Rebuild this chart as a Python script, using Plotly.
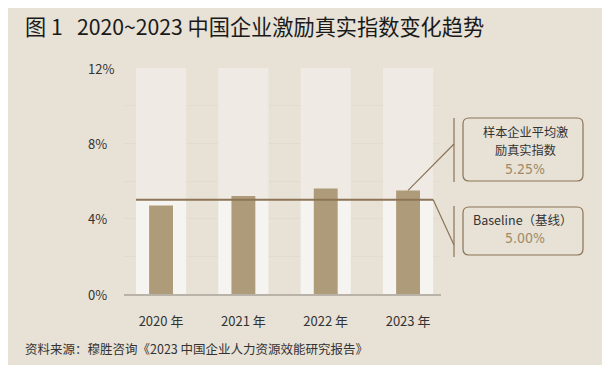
import plotly.graph_objects as go

# ---- data ----
years = ["2020 年", "2021 年", "2022 年", "2023 年"]
index_values = [4.7, 5.2, 5.6, 5.5]       # 激励真实指数 (%)
baseline = 5.00                            # Baseline（基线）
avg_index = 5.25                           # 样本企业平均激励真实指数
y_max = 12
y_label_vals = [0, 4, 8, 12]
y_grid_vals = [0, 2, 4, 6, 8, 10, 12]

# ---- style ----
BG = "#e7e1d6"
LIGHT_LOW = "#f6f4f0"
LIGHT_HIGH = "#efebe4"
BAR = "#ae9b79"
LINE = "#8c7456"
TXT = "#333333"
CJK = "Noto Sans CJK SC"
NARROW = "Liberation Sans Narrow, DejaVu Sans Condensed, Roboto Condensed, sans-serif"

OFF = 8  # page body margin offset
W, H = 610, 365
L, T = 124 - OFF, 68 - OFF
PW, PH = 317, 226
R = W - L - PW
B = H - T - PH
x_range = [-0.45, 3.40]
bg_w, fg_w = 0.61, 0.29

def px(xs_):
    return (xs_ - 124) / PW

def py(ys_):
    return (294 - ys_) / PH

xs = list(range(len(years)))

fig = go.Figure()
fig.add_trace(go.Bar(x=xs, y=[baseline] * len(xs), base=0, width=bg_w,
                     marker=dict(color=LIGHT_LOW, line=dict(width=0)), hoverinfo="skip"))
fig.add_trace(go.Bar(x=xs, y=[y_max - baseline] * len(xs), base=[baseline] * len(xs), width=bg_w,
                     marker=dict(color=LIGHT_HIGH, line=dict(width=0)), hoverinfo="skip"))
fig.add_trace(go.Bar(x=xs, y=index_values, width=fg_w,
                     marker=dict(color=BAR, line=dict(width=0))))
fig.add_trace(go.Scatter(x=[xs[0] - bg_w / 2, xs[-1] + bg_w / 2], y=[baseline, baseline],
                         mode="lines", line=dict(color=LINE, width=2), hoverinfo="skip"))

shapes = []
annotations = []

def xpaper(v):
    return (v - x_range[0]) / (x_range[1] - x_range[0])

vline_x = px(454)
shapes.append(dict(type="line", xref="paper", yref="paper",
                   x0=xpaper(xs[-1]), y0=index_values[-1] / y_max, x1=vline_x, y1=py(144),
                   line=dict(color=LINE, width=1.2)))
shapes.append(dict(type="line", xref="paper", yref="paper",
                   x0=vline_x, y0=py(118), x1=vline_x, y1=py(182),
                   line=dict(color=LINE, width=1.2)))
shapes.append(dict(type="line", xref="paper", yref="paper",
                   x0=xpaper(xs[-1] + bg_w / 2), y0=baseline / y_max, x1=vline_x, y1=py(245),
                   line=dict(color=LINE, width=1.2)))
shapes.append(dict(type="line", xref="paper", yref="paper",
                   x0=vline_x, y0=py(206), x1=vline_x, y1=py(257),
                   line=dict(color=LINE, width=1.2)))

def rounded_box(x0p, y0p, x1p, y1p, r=6):
    x0, x1 = px(x0p), px(x1p)
    yt, yb = py(y0p), py(y1p)
    rx, ry = r / PW, r / PH
    path = (f"M {x0+rx},{yt} L {x1-rx},{yt} Q {x1},{yt} {x1},{yt-ry} "
            f"L {x1},{yb+ry} Q {x1},{yb} {x1-rx},{yb} L {x0+rx},{yb} "
            f"Q {x0},{yb} {x0},{yb+ry} L {x0},{yt-ry} Q {x0},{yt} {x0+rx},{yt} Z")
    return dict(type="path", xref="paper", yref="paper", path=path,
                line=dict(color=LINE, width=1.2))

shapes.append(rounded_box(463, 118, 583, 181))
shapes.append(rounded_box(463, 207, 583, 255))

def txt(x, y, text, size, color=TXT, family=CJK, xanchor="center"):
    annotations.append(dict(xref="paper", yref="paper", x=px(x), y=py(y), text=text,
                            showarrow=False, xanchor=xanchor, yanchor="middle",
                            font=dict(size=size, color=color, family=family)))

txt(525, 132, "样本企业平均激", 12.2)
txt(525, 150, "励真实指数", 12.2)
txt(525, 169, f"{avg_index:.2f}%", 14, color="#a08a68", family=NARROW)
txt(523, 219, "Baseline（基线）", 12.5)
txt(525, 238, f"{baseline:.2f}%", 14, color="#a08a68", family=NARROW)

# y tick labels (left aligned)
for v in y_label_vals:
    annotations.append(dict(xref="paper", yref="y", x=px(86), y=v, text=f"{v}%",
                            showarrow=False, xanchor="left", yanchor="middle",
                            font=dict(size=13, color=TXT, family=CJK)))

txt(23, 26, "图&nbsp;1&nbsp;&nbsp;&nbsp;2020~2023 中国企业激励真实指数变化趋势", 21.2,
    color="#1a1a1a", xanchor="left")
txt(23, 348, "资料来源：穆胜咨询《2023 中国企业人力资源效能研究报告》", 12.5, xanchor="left")

fig.update_layout(
    width=W, height=H,
    margin=dict(l=L, r=R, t=T, b=B),
    paper_bgcolor=BG, plot_bgcolor=BG,
    barmode="overlay", showlegend=False,
    shapes=shapes, annotations=annotations,
    font=dict(family=CJK, color=TXT),
)
fig.update_xaxes(range=x_range, tickvals=xs, ticktext=years, showgrid=False, zeroline=False,
                 showline=True, linecolor="#b8b2a8", linewidth=2,
                 tickfont=dict(size=13, color=TXT, family=CJK), ticks="", ticklabelstandoff=14)
fig.update_yaxes(range=[0, y_max], tickvals=y_grid_vals, showticklabels=False,
                 showgrid=True, gridcolor="#e2dccf", gridwidth=1, zeroline=False, ticks="")

fig.write_html("out.html")
